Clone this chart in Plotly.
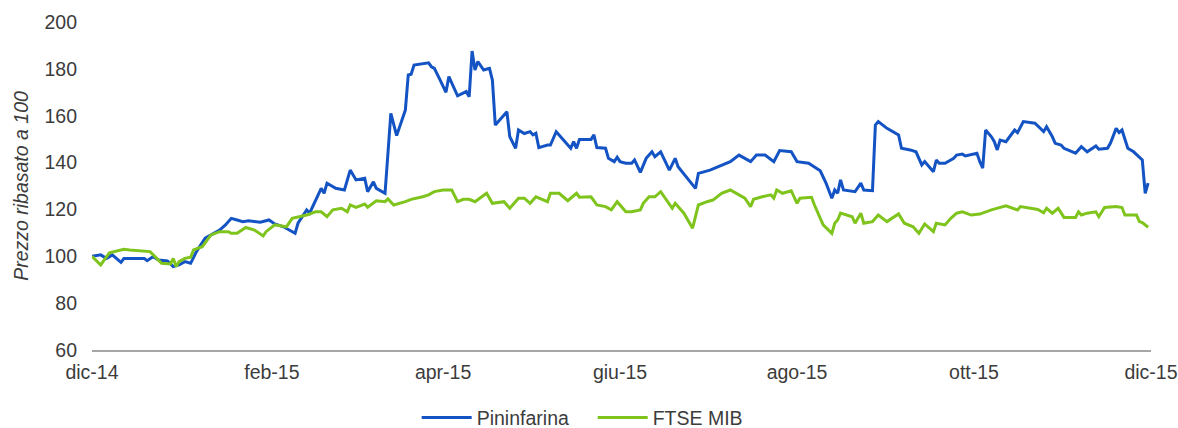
import plotly.graph_objects as go

# ---- data ----
pin_dates = [
    "2014-12-01", "2014-12-04", "2014-12-06", "2014-12-08", "2014-12-11", "2014-12-12",
    "2014-12-19", "2014-12-20", "2014-12-22", "2014-12-24", "2014-12-27", "2014-12-29",
    "2014-12-31", "2015-01-02", "2015-01-04", "2015-01-06", "2015-01-09", "2015-01-11",
    "2015-01-14", "2015-01-16", "2015-01-18", "2015-01-20", "2015-01-22", "2015-01-24",
    "2015-01-26", "2015-01-28", "2015-01-31", "2015-02-02", "2015-02-05", "2015-02-09",
    "2015-02-10", "2015-02-13", "2015-02-14", "2015-02-16", "2015-02-18", "2015-02-19",
    "2015-02-20", "2015-02-23", "2015-02-26", "2015-02-28", "2015-03-02", "2015-03-05",
    "2015-03-06", "2015-03-08", "2015-03-09", "2015-03-12", "2015-03-14", "2015-03-16",
    "2015-03-19", "2015-03-20", "2015-03-21", "2015-03-22", "2015-03-27", "2015-03-28",
    "2015-03-29", "2015-03-31", "2015-04-02", "2015-04-03", "2015-04-06", "2015-04-09",
    "2015-04-10", "2015-04-11", "2015-04-12", "2015-04-13", "2015-04-15", "2015-04-17",
    "2015-04-18", "2015-04-19", "2015-04-23", "2015-04-24", "2015-04-26", "2015-04-27",
    "2015-04-29", "2015-05-01", "2015-05-02", "2015-05-03", "2015-05-04", "2015-05-07",
    "2015-05-08", "2015-05-10", "2015-05-15", "2015-05-16", "2015-05-17", "2015-05-18",
    "2015-05-22", "2015-05-23", "2015-05-24", "2015-05-27", "2015-05-28", "2015-05-30",
    "2015-05-31", "2015-06-01", "2015-06-03", "2015-06-05", "2015-06-06", "2015-06-08",
    "2015-06-10", "2015-06-12", "2015-06-13", "2015-06-15", "2015-06-18", "2015-06-20",
    "2015-06-21", "2015-06-27", "2015-06-28", "2015-07-02", "2015-07-05", "2015-07-09",
    "2015-07-12", "2015-07-16", "2015-07-18", "2015-07-21", "2015-07-24", "2015-07-26",
    "2015-07-30", "2015-08-01", "2015-08-05", "2015-08-09", "2015-08-11", "2015-08-13",
    "2015-08-14", "2015-08-15", "2015-08-16", "2015-08-17", "2015-08-21", "2015-08-23",
    "2015-08-24", "2015-08-27", "2015-08-28", "2015-08-29", "2015-09-01", "2015-09-05",
    "2015-09-06", "2015-09-09", "2015-09-11", "2015-09-13", "2015-09-14", "2015-09-17",
    "2015-09-18", "2015-09-19", "2015-09-21", "2015-09-24", "2015-09-25", "2015-09-27",
    "2015-09-28", "2015-10-02", "2015-10-03", "2015-10-04", "2015-10-05", "2015-10-07",
    "2015-10-08", "2015-10-09", "2015-10-10", "2015-10-12", "2015-10-15", "2015-10-16",
    "2015-10-18", "2015-10-22", "2015-10-25", "2015-10-26", "2015-10-28", "2015-10-29",
    "2015-10-31", "2015-11-01", "2015-11-05", "2015-11-06", "2015-11-07", "2015-11-09",
    "2015-11-12", "2015-11-13", "2015-11-16", "2015-11-17", "2015-11-19", "2015-11-20",
    "2015-11-21", "2015-11-23", "2015-11-25", "2015-11-28", "2015-11-29", "2015-11-30",
]
pin_values = [
    100.0, 100.6, 99.1, 100.6, 97.4, 99.1,
    99.1, 98.1, 99.8, 98.4, 98.0, 95.6,
    96.3, 97.7, 97.0, 102.0, 107.7, 109.1,
    111.2, 113.4, 116.2, 115.5, 114.8, 115.2,
    114.8, 114.5, 115.5, 113.8, 112.6, 109.8,
    114.1, 119.8, 118.4, 124.0, 129.0, 126.9,
    131.2, 129.0, 128.3, 136.8, 132.6, 133.3,
    127.6, 131.8, 129.0, 126.9, 161.0, 151.5,
    162.4, 177.4, 177.7, 181.6, 182.6, 180.9,
    180.2, 175.2, 170.0, 176.7, 168.5, 170.3,
    168.1, 187.6, 179.5, 183.1, 179.5, 180.2,
    175.2, 156.0, 161.7, 151.0, 146.1, 153.9,
    152.4, 153.2, 151.8, 152.5, 146.4, 147.5,
    147.5, 153.2, 146.1, 148.9, 146.1, 149.9,
    149.9, 151.8, 146.4, 146.1, 141.8, 140.4,
    142.3, 140.4, 139.7, 139.7, 141.1, 135.8,
    141.8, 144.6, 142.5, 144.6, 136.8, 141.8,
    138.2, 129.0, 135.4, 136.8, 138.2, 140.4,
    143.2, 140.4, 143.2, 143.2, 140.4, 145.1,
    144.6, 140.4, 139.7, 136.5, 131.2, 124.8,
    128.3, 126.9, 132.6, 128.3, 127.6, 131.2,
    128.3, 128.0, 156.0, 157.5, 154.6, 151.8,
    146.1, 145.4, 144.6, 139.0, 140.4, 136.1,
    141.1, 139.7, 139.7, 141.8, 143.2, 143.6,
    142.8, 144.0, 140.4, 137.6, 153.9, 151.0,
    148.9, 145.4, 149.6, 148.9, 153.9, 152.8,
    157.5, 156.8, 153.2, 155.3, 151.0, 148.2,
    147.5, 146.1, 144.0, 145.4, 146.8, 144.6,
    147.1, 145.7, 146.1, 148.2, 154.6, 152.8,
    153.9, 146.1, 144.6, 141.1, 126.9, 131.2,
]

mib_dates = [
    "2014-12-01", "2014-12-04", "2014-12-07", "2014-12-12", "2014-12-14", "2014-12-19",
    "2014-12-21", "2014-12-25", "2014-12-28", "2014-12-29", "2014-12-30", "2014-12-31",
    "2015-01-02", "2015-01-04", "2015-01-05", "2015-01-08", "2015-01-11", "2015-01-14",
    "2015-01-17", "2015-01-18", "2015-01-20", "2015-01-23", "2015-01-26", "2015-01-29",
    "2015-01-30", "2015-02-02", "2015-02-06", "2015-02-08", "2015-02-13", "2015-02-16",
    "2015-02-18", "2015-02-20", "2015-02-22", "2015-02-25", "2015-02-27", "2015-02-28",
    "2015-03-02", "2015-03-05", "2015-03-06", "2015-03-09", "2015-03-12", "2015-03-13",
    "2015-03-15", "2015-03-19", "2015-03-21", "2015-03-25", "2015-03-27", "2015-03-29",
    "2015-04-01", "2015-04-04", "2015-04-06", "2015-04-08", "2015-04-10", "2015-04-12",
    "2015-04-16", "2015-04-18", "2015-04-22", "2015-04-24", "2015-04-27", "2015-04-29",
    "2015-05-01", "2015-05-03", "2015-05-07", "2015-05-08", "2015-05-11", "2015-05-14",
    "2015-05-17", "2015-05-18", "2015-05-22", "2015-05-24", "2015-05-27", "2015-05-29",
    "2015-05-31", "2015-06-03", "2015-06-05", "2015-06-08", "2015-06-09", "2015-06-11",
    "2015-06-13", "2015-06-15", "2015-06-19", "2015-06-20", "2015-06-23", "2015-06-26",
    "2015-06-28", "2015-07-01", "2015-07-03", "2015-07-06", "2015-07-09", "2015-07-12",
    "2015-07-14", "2015-07-16", "2015-07-17", "2015-07-20", "2015-07-23", "2015-07-24",
    "2015-07-25", "2015-07-27", "2015-07-30", "2015-08-01", "2015-08-02", "2015-08-06",
    "2015-08-07", "2015-08-10", "2015-08-13", "2015-08-14", "2015-08-15", "2015-08-16",
    "2015-08-20", "2015-08-21", "2015-08-23", "2015-08-24", "2015-08-27", "2015-08-29",
    "2015-09-01", "2015-09-05", "2015-09-07", "2015-09-10", "2015-09-12", "2015-09-14",
    "2015-09-17", "2015-09-18", "2015-09-21", "2015-09-23", "2015-09-25", "2015-09-27",
    "2015-09-30", "2015-10-03", "2015-10-05", "2015-10-07", "2015-10-12", "2015-10-16",
    "2015-10-17", "2015-10-23", "2015-10-25", "2015-10-26", "2015-10-28", "2015-10-30",
    "2015-11-01", "2015-11-05", "2015-11-06", "2015-11-07", "2015-11-09", "2015-11-12",
    "2015-11-13", "2015-11-15", "2015-11-19", "2015-11-21", "2015-11-22", "2015-11-26",
    "2015-11-27", "2015-11-28", "2015-11-30",
]
mib_values = [
    100.0, 96.3, 101.5, 103.0, 102.7, 102.0,
    102.0, 97.0, 96.7, 99.1, 95.6, 97.7,
    99.1, 99.6, 102.7, 104.1, 109.1, 110.5,
    110.5, 109.8, 109.8, 112.3, 111.2, 108.7,
    110.5, 113.4, 112.6, 116.2, 117.6, 119.0,
    119.0, 116.9, 119.8, 120.5, 119.0, 121.9,
    120.9, 122.3, 120.9, 123.7, 123.3, 124.5,
    121.9, 123.3, 124.3, 125.4, 126.2, 127.6,
    128.3, 128.3, 123.3, 124.3, 124.3, 123.3,
    126.9, 122.6, 123.3, 120.5, 124.8, 124.8,
    122.6, 125.4, 123.3, 126.9, 126.9, 123.7,
    126.9, 125.2, 125.4, 121.9, 121.2, 119.8,
    123.3, 119.0, 119.0, 119.8, 122.6, 125.4,
    125.4, 127.6, 120.5, 122.6, 118.4, 112.0,
    121.9, 123.3, 124.0, 126.9, 128.3, 126.2,
    124.8, 121.2, 124.3, 125.4, 126.2, 124.8,
    128.3, 126.9, 128.0, 122.6, 124.8, 125.2,
    121.9, 113.4, 109.8, 114.1, 115.5, 118.4,
    116.9, 114.1, 118.4, 114.1, 114.8, 117.6,
    114.8, 118.1, 114.1, 112.6, 109.8, 113.8,
    110.5, 114.1, 113.4, 116.2, 118.4, 119.0,
    117.6, 118.0, 119.0, 119.8, 121.5, 119.8,
    121.2, 120.0, 118.6, 120.5, 118.4, 120.5,
    116.6, 116.6, 119.0, 117.6, 118.4, 119.0,
    116.9, 120.8, 121.2, 120.8, 117.6, 117.6,
    114.8, 114.4, 112.4,
]

tick_dates = ["2014-12-01", "2015-02-01", "2015-04-01", "2015-06-01",
              "2015-08-01", "2015-10-01", "2015-12-01"]
tick_labels = ["dic-14", "feb-15", "apr-15", "giu-15", "ago-15", "ott-15", "dic-15"]

series_names = ["Pininfarina", "FTSE MIB"]
y_title = "Prezzo ribasato a 100"

# ---- styling ----
BLUE = "#1353C3"
GREEN = "#7FC41C"
TEXT = "#3c3c3c"
FONT = "Liberation Sans, Arial, sans-serif"
FS = 19.5

fig = go.Figure()
fig.add_trace(go.Scatter(x=pin_dates, y=pin_values, mode="lines", name=series_names[0],
                         line=dict(color=BLUE, width=3)))
fig.add_trace(go.Scatter(x=mib_dates, y=mib_values, mode="lines", name=series_names[1],
                         line=dict(color=GREEN, width=3)))

fig.update_layout(
    width=1178, height=428,
    margin=dict(l=92, r=27, t=22, b=78, autoexpand=False),
    paper_bgcolor="white", plot_bgcolor="white",
    font=dict(family=FONT, size=FS, color=TEXT),
    showlegend=True,
    legend=dict(orientation="h", x=0.3066, xanchor="left", y=-0.207, yanchor="middle",
                font=dict(size=FS, color=TEXT), itemwidth=50, entrywidth=111,
                entrywidthmode="pixels", tracegroupgap=0, bgcolor="rgba(0,0,0,0)"),
)
fig.update_xaxes(
    type="date", range=["2014-12-01", "2015-12-01"],
    tickmode="array", tickvals=tick_dates, ticktext=tick_labels,
    showgrid=False, zeroline=False, automargin=False,
    showline=True, linecolor="#A6A6A6", linewidth=2,
    ticks="", ticklabelstandoff=4, ticklabeloverflow="allow",
    tickfont=dict(size=FS, color=TEXT),
)
fig.update_yaxes(
    range=[60, 200], tickmode="linear", tick0=60, dtick=20,
    showgrid=False, zeroline=False, showline=False, automargin=False,
    ticks="", ticklabelstandoff=14,
    tickfont=dict(size=FS, color=TEXT),
    title=dict(text="<i>" + y_title + "</i>", font=dict(size=FS, color=TEXT), standoff=10),
)

# remove the browser's default 8px body margin so the figure fills the window exactly
fig.write_html("out.html", config={"displayModeBar": False},
               post_script="document.body.style.margin='0';document.body.style.overflow='hidden';")
